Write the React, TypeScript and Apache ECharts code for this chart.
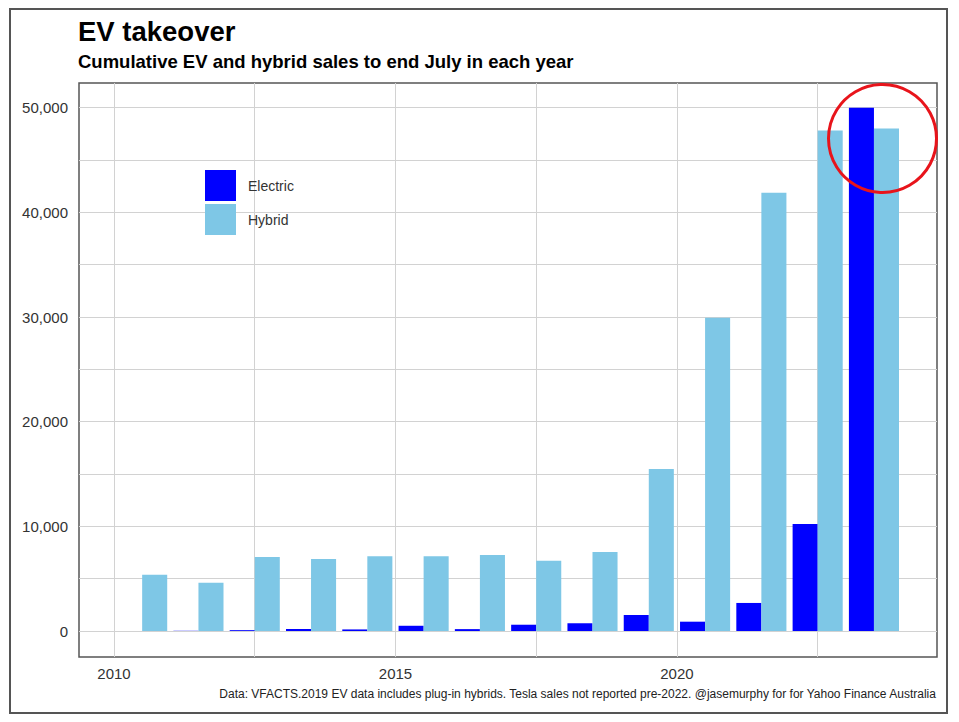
import React, { useEffect, useRef } from "react";
import * as echarts from "echarts";

// ---- Data ----
const years = [2010, 2011, 2012, 2013, 2014, 2015, 2016, 2017, 2018, 2019, 2020, 2021, 2022, 2023];
const electric = [0, 20, 80, 190, 150, 500, 180, 600, 740, 1530, 890, 2680, 10230, 50000];
const hybrid = [5380, 4620, 7080, 6880, 7150, 7150, 7250, 6720, 7550, 15490, 29930, 41880, 47830, 48020];
const seriesNames = ["Electric", "Hybrid"];

// tick labels / grid positions
const xLabelValues = [2010, 2015, 2020];
const xGridValues = [2010, 2012.5, 2015, 2017.5, 2020, 2022.5];
const yLabelValues = [0, 10000, 20000, 30000, 40000, 50000];
const yGridValues = [0, 5000, 10000, 15000, 20000, 25000, 30000, 35000, 40000, 45000, 50000];

const titleText = "EV takeover";
const subtitleText = "Cumulative EV and hybrid sales to end July in each year";
const captionText =
  "Data: VFACTS.2019 EV data includes plug-in hybrids. Tesla sales not reported pre-2022. @jasemurphy for for Yahoo Finance Australia";

const FONT = "'Liberation Sans', Arial, Helvetica, sans-serif";

export default function App() {
  const ref = useRef<HTMLDivElement>(null);

  useEffect(() => {
    if (!ref.current) return;
    const chart = echarts.init(ref.current, null, { renderer: "svg" });
    // each year's bars sit in the middle of the year (mid-year)
    const midYear = (y: number) => y + 0.5;
    const option: any = {
      animation: false,
      backgroundColor: "#ffffff",
      textStyle: { fontFamily: FONT },
      title: [
        {
          text: titleText,
          left: 78,
          top: 17,
          padding: 0,
          textStyle: { fontFamily: FONT, fontSize: 27.5, fontWeight: "bold", color: "#000" },
        },
        {
          text: subtitleText,
          left: 78,
          top: 52,
          padding: 0,
          textStyle: { fontFamily: FONT, fontSize: 18.5, fontWeight: "bold", color: "#000" },
        },
        {
          text: captionText,
          right: 22,
          top: 688,
          padding: 0,
          textStyle: { fontFamily: FONT, fontSize: 12, fontWeight: "normal", color: "#222" },
        },
      ],
      legend: {
        data: seriesNames,
        orient: "vertical",
        left: 205,
        top: 170,
        padding: 0,
        itemWidth: 31,
        itemHeight: 31,
        itemGap: 3,
        icon: "rect",
        selectedMode: false,
        textStyle: { fontFamily: FONT, fontSize: 14, color: "#333", padding: [0, 0, 0, 7] },
      },
      grid: {
        left: 79,
        top: 83,
        right: 22,
        bottom: 65,
        show: true,
        borderColor: "#555",
        borderWidth: 1.5,
        backgroundColor: "transparent",
      },
      xAxis: {
        type: "value",
        min: 2009.378,
        max: 2024.62,
        axisLine: { show: false },
        axisTick: { show: false, customValues: xGridValues },
        axisLabel: {
          customValues: xLabelValues,
          fontFamily: FONT,
          fontSize: 15,
          color: "#333",
          margin: 9,
          formatter: (v: number) => String(v),
        },
        splitLine: { show: true, lineStyle: { color: "#d2d2d2", width: 1 } },
      },
      yAxis: {
        type: "value",
        min: -2484,
        max: 52360,
        axisLine: { show: false },
        axisTick: { show: false, customValues: yGridValues },
        axisLabel: {
          customValues: yLabelValues,
          fontFamily: FONT,
          fontSize: 15,
          color: "#333",
          margin: 11,
          formatter: (v: number) => v.toLocaleString("en-US"),
        },
        splitLine: { show: true, lineStyle: { color: "#d2d2d2", width: 1 } },
      },
      series: [
        {
          name: seriesNames[0],
          type: "bar",
          data: years.map((y, i) => [midYear(y), electric[i]]),
          itemStyle: { color: "#0000ff" },
          barCategoryGap: "11%",
          barGap: "0%",
          silent: true,
        },
        {
          name: seriesNames[1],
          type: "bar",
          data: years.map((y, i) => [midYear(y), hybrid[i]]),
          itemStyle: { color: "#7ec7e6" },
          barCategoryGap: "11%",
          barGap: "0%",
          silent: true,
        },
      ],
      graphic: [
        {
          type: "rect",
          shape: { x: 10, y: 9, width: 937, height: 704 },
          style: { fill: "none", stroke: "#555", lineWidth: 2 },
          silent: true,
          z: 100,
        },
        {
          type: "circle",
          shape: { cx: 882.5, cy: 138.5, r: 54 },
          style: { fill: "none", stroke: "#e8141b", lineWidth: 3 },
          silent: true,
          z: 100,
        },
      ],
    };
    chart.setOption(option);
    return () => chart.dispose();
  }, []);

  return (
    <div
      ref={ref}
      style={{ position: "absolute", left: 0, top: 0, width: 959, height: 722, background: "#fff" }}
    />
  );
}
